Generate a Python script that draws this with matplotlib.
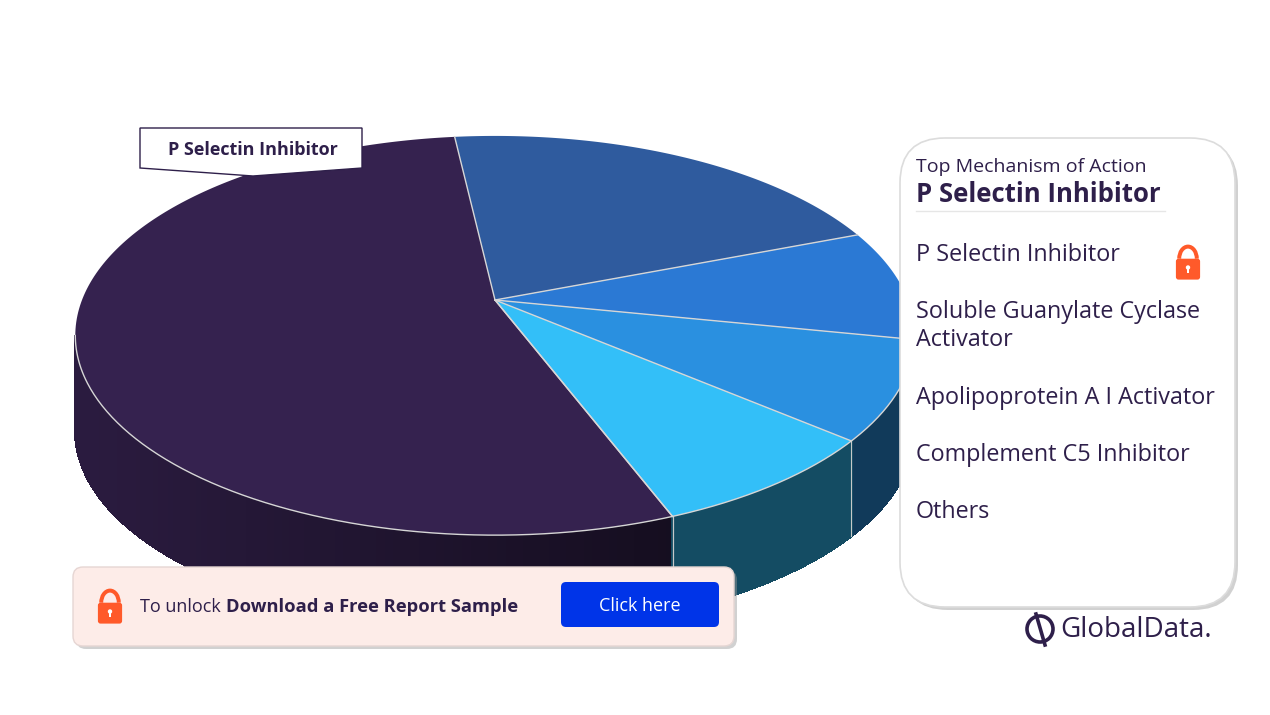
import numpy as np
import matplotlib.pyplot as plt
from matplotlib.patches import Polygon, FancyBboxPatch, Arc, Circle, Rectangle
from matplotlib.colors import to_rgb

plt.rcParams['font.family'] = ['Open Sans', 'DejaVu Sans']

# data
mechanisms = ['P Selectin Inhibitor', 'Soluble Guanylate Cyclase\nActivator',
              'Apolipoprotein A I Activator', 'Complement C5 Inhibitor', 'Others']
shares = [54, 21, 9, 8, 8]
colors = ['#35224F', '#2F5B9E', '#2B79D4', '#2A90E0', '#33BFF8']
top_mechanism = 'P Selectin Inhibitor'

TXT = '#2E1F4A'
ORANGE = '#FF5A2A'

# 3d pie geometry (pixels)
CX, CY, K = 495, 300, 413
PERSP, TILT = 0.178, 0.468
DEPTH = 95
START = 159.0


def project(alpha):
    a = np.radians(alpha)
    X = np.sin(a)
    Z = -np.cos(a)
    w = 1 - PERSP * Z
    return CX + K * X / w, CY + K * TILT * Z / w


def shade(c, x):
    f = np.clip(0.8 - 0.4 * (x - 85) / (670 - 85), 0.4, 0.8)
    return tuple(np.array(to_rgb(c)) * f)


def draw_lock(ax, x, y, s, z=10):
    ax.add_patch(FancyBboxPatch((x - 0.55 * s, y - 0.15 * s), 1.1 * s, 0.95 * s,
                                boxstyle='round,pad=0,rounding_size=%f' % (0.12 * s),
                                fc=ORANGE, ec='none', zorder=z))
    ax.add_patch(Arc((x, y - 0.15 * s), 0.8 * s, 1.1 * s, theta1=180, theta2=360,
                     color=ORANGE, lw=s * 0.13, zorder=z))
    ax.add_patch(Circle((x, y + 0.25 * s), 0.1 * s, fc='white', ec='none', zorder=z + 1))
    ax.add_patch(Rectangle((x - 0.035 * s, y + 0.25 * s), 0.07 * s, 0.25 * s,
                           fc='white', ec='none', zorder=z + 1))


fig = plt.figure(figsize=(12.7, 7.15), dpi=100)
ax = fig.add_axes([0, 0, 1, 1])
ax.set_xlim(0, 1270)
ax.set_ylim(715, 0)
ax.axis('off')

edges = START + np.concatenate([[0], np.cumsum(shares)]) / sum(shares) * 360
vis_lo, vis_hi = 100.25, 259.75

# sides
for i, c in enumerate(colors):
    a0, a1 = edges[i], edges[i + 1]
    for off in (0, 360):
        lo, hi = max(a0, vis_lo + off), min(a1, vis_hi + off)
        if lo >= hi:
            continue
        steps = np.linspace(lo, hi, max(int(hi - lo) + 2, 2))
        for s0, s1 in zip(steps[:-1], steps[1:]):
            x0, y0 = project(s0)
            x1, y1 = project(s1)
            col = shade(c, (x0 + x1) / 2)
            ax.add_patch(Polygon([(x0, y0), (x1, y1), (x1, y1 + DEPTH), (x0, y0 + DEPTH)],
                                 closed=True, fc=col, ec=col, lw=1.2,
                                 antialiased=False, zorder=1))
for e in edges:
    for off in (0, 360):
        if vis_lo + off < e < vis_hi + off:
            x, y = project(e)
            ax.plot([x, x], [y, y + DEPTH], color='#c8c8c8', lw=0.8, zorder=2)

# top faces
for i, c in enumerate(colors):
    arc = np.linspace(edges[i], edges[i + 1], 200)
    xs, ys = project(arc)
    pts = [(CX, CY)] + list(zip(xs, ys))
    ax.add_patch(Polygon(pts, closed=True, fc=c, ec='none', zorder=3))
for e in edges:
    x, y = project(e)
    ax.plot([CX, x], [CY, y], color='#d6d6d6', lw=1.0, zorder=4)
front = np.linspace(vis_lo, vis_hi, 300)
fx, fy = project(front)
ax.plot(fx, fy, color='#d6d6d6', lw=1.0, zorder=4)

# callout label
ax.add_patch(Polygon([(140, 128), (362, 128), (362, 168), (253, 176), (140, 168)],
                     closed=True, fc='white', ec=TXT, lw=1.0, zorder=6))
ax.text(253, 150, top_mechanism, ha='center', va='center', fontsize=13,
        fontweight='bold', color=TXT, zorder=7)

# legend card
ax.add_patch(FancyBboxPatch((903, 141), 335, 469, boxstyle='round,pad=0,rounding_size=45',
                            fc='#9a9a9a', ec='none', alpha=0.45, zorder=8))
ax.add_patch(FancyBboxPatch((900, 138), 335, 469, boxstyle='round,pad=0,rounding_size=45',
                            fc='white', ec='#dcdcdc', lw=1.2, zorder=9))
ax.text(916, 167, 'Top Mechanism of Action', ha='left', va='center', fontsize=14,
        color=TXT, zorder=10)
ax.text(916, 195, top_mechanism, ha='left', va='center', fontsize=18.5,
        fontweight='bold', color=TXT, zorder=10)
ax.plot([916, 1165], [211, 211], color='#e6e6e6', lw=1, zorder=10)
item_y = [255, 326, 398, 455, 512]
for name, y in zip(mechanisms, item_y):
    ax.text(916, y, name, ha='left', va='center', fontsize=16.8, color=TXT,
            linespacing=1.22, zorder=10)
draw_lock(ax, 1188, 262, 22)

# unlock banner
ax.add_patch(FancyBboxPatch((76, 570), 661, 79, boxstyle='round,pad=0,rounding_size=10',
                            fc='#9a9a9a', ec='none', alpha=0.45, zorder=8))
ax.add_patch(FancyBboxPatch((73, 567), 661, 79, boxstyle='round,pad=0,rounding_size=10',
                            fc='#FDECE8', ec='#e6d6d3', lw=1, zorder=9))
draw_lock(ax, 110, 606, 22)
ax.text(140, 607, 'To unlock', ha='left', va='center', fontsize=13, color=TXT, zorder=10)
ax.text(226, 607, 'Download a Free Report Sample', ha='left', va='center', fontsize=13.2,
        fontweight='bold', color=TXT, zorder=10)
ax.add_patch(FancyBboxPatch((561, 582), 158, 45, boxstyle='round,pad=0,rounding_size=5',
                            fc='#0034E8', ec='none', zorder=10))
ax.text(640, 606, 'Click here', ha='center', va='center', fontsize=13, color='white', zorder=11)

# logo
ax.add_patch(Circle((1040, 629), 13, fc='none', ec=TXT, lw=2.6, zorder=10))
ax.plot([1036, 1045], [614, 645], color=TXT, lw=2.6, zorder=10)
ax.text(1060, 630, 'GlobalData.', ha='left', va='center', fontsize=20, fontweight='medium',
        color=TXT, zorder=10)

fig.savefig('out.png', dpi=100, facecolor='white')
